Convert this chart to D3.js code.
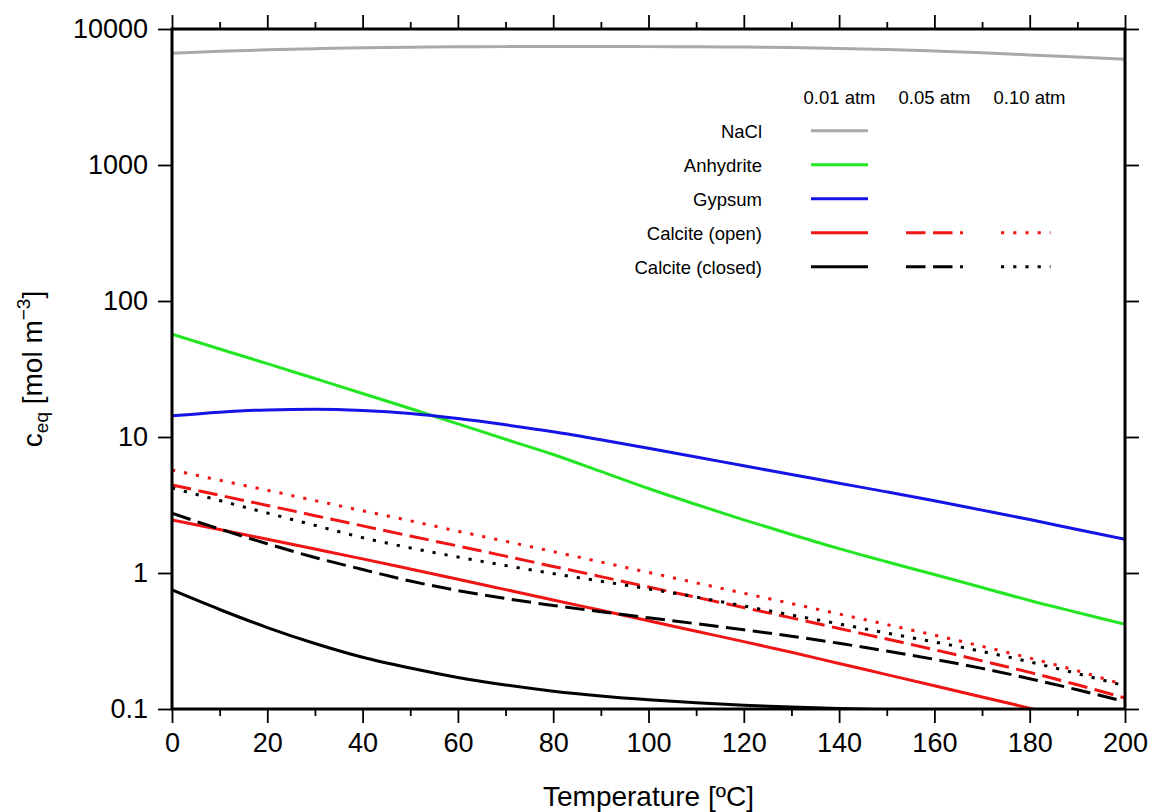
<!DOCTYPE html>
<html>
<head>
<meta charset="utf-8">
<script src="https://cdn.jsdelivr.net/npm/d3@7"></script>
<style>
  html, body { margin: 0; padding: 0; background: #fff; }
  svg { display: block; font-family: "Liberation Sans", Arial, Helvetica, sans-serif; }
</style>
</head>
<body>
<svg id="chart" width="1151" height="812"></svg>
<script>
// ---------------- DATA ----------------
const temperatures = [0, 10, 20, 30, 40, 50, 60, 70, 80, 90, 100, 110, 120, 130, 140, 150, 160, 170, 180, 190, 200];

const naclValues      = [6620, 6850, 7030, 7170, 7280, 7350, 7400, 7420, 7430, 7430, 7420, 7400, 7360, 7300, 7200, 7060, 6880, 6680, 6450, 6220, 5980];
const anhydriteValues = [56.9, 44.4, 34.6, 26.9, 20.9, 16.2, 12.5, 9.62, 7.43, 5.58, 4.18, 3.19, 2.46, 1.92, 1.51, 1.209, 0.975, 0.782, 0.628, 0.513, 0.42];
const gypsumValues    = [14.3, 15.22, 15.82, 15.98, 15.64, 14.86, 13.66, 12.29, 10.92, 9.54, 8.26, 7.13, 6.14, 5.30, 4.57, 3.95, 3.40, 2.90, 2.47, 2.09, 1.77];
const calciteOpen001  = [2.45, 2.09, 1.77, 1.50, 1.27, 1.07, 0.900, 0.755, 0.633, 0.532, 0.446, 0.373, 0.313, 0.261, 0.216, 0.179, 0.1483, 0.1227, 0.1014, 0.0836, 0.0689];
const calciteOpen005  = [4.44, 3.73, 3.14, 2.64, 2.22, 1.87, 1.58, 1.33, 1.118, 0.941, 0.789, 0.663, 0.557, 0.468, 0.391, 0.327, 0.273, 0.226, 0.186, 0.1506, 0.1205];
const calciteOpen010  = [5.72, 4.81, 4.06, 3.41, 2.87, 2.42, 2.03, 1.711, 1.437, 1.205, 1.010, 0.847, 0.710, 0.596, 0.4995, 0.418, 0.349, 0.289, 0.237, 0.191, 0.150];
const calciteClosed001 = [0.750, 0.539, 0.397, 0.303, 0.240, 0.200, 0.1704, 0.1502, 0.1352, 0.1246, 0.1168, 0.1110, 0.1066, 0.1034, 0.1008, 0.0987, 0.0967, 0.095, 0.0935, 0.092, 0.0905];
const calciteClosed005 = [2.75, 2.106, 1.640, 1.300, 1.061, 0.873, 0.743, 0.649, 0.577, 0.519, 0.468, 0.424, 0.382, 0.343, 0.304, 0.267, 0.232, 0.199, 0.167, 0.1384, 0.1135];
const calciteClosed010 = [4.22, 3.41, 2.76, 2.24, 1.82, 1.53, 1.31, 1.135, 0.991, 0.870, 0.765, 0.666, 0.572, 0.491, 0.422, 0.362, 0.311, 0.265, 0.222, 0.182, 0.148];

const xTickValues = [0, 10, 20, 30, 40, 50, 60, 70, 80, 90, 100, 110, 120, 130, 140, 150, 160, 170, 180, 190, 200];
const xTickLabels = [0, 20, 40, 60, 80, 100, 120, 140, 160, 180, 200];
const yTickValues = [0.1, 1, 10, 100, 1000, 10000];
const yTickLabels = ["0.1", "1", "10", "100", "1000", "10000"];

const legendRowLabels = ["NaCl", "Anhydrite", "Gypsum", "Calcite (open)", "Calcite (closed)"];
const pressureLabels = ["0.01 atm", "0.05 atm", "0.10 atm"];

const xTitle = "Temperature [ºC]";

// series: row in legend, pressure column, style
const series = [
  { values: naclValues,        row: 0, col: 0, color: "#a9a9a9", dash: null },
  { values: anhydriteValues,   row: 1, col: 0, color: "#22e622", dash: null },
  { values: gypsumValues,      row: 2, col: 0, color: "#1414e6", dash: null },
  { values: calciteOpen001,    row: 3, col: 0, color: "#f01414", dash: null },
  { values: calciteOpen005,    row: 3, col: 1, color: "#f01414", dash: "19.5,7.5" },
  { values: calciteOpen010,    row: 3, col: 2, color: "#f01414", dash: "3.2,9" },
  { values: calciteClosed001,  row: 4, col: 0, color: "#000000", dash: null },
  { values: calciteClosed005,  row: 4, col: 1, color: "#000000", dash: "19.5,7.5" },
  { values: calciteClosed010,  row: 4, col: 2, color: "#000000", dash: "3.2,9" }
];

(function () {
// ---------------- LAYOUT ----------------
const svg = d3.select("#chart");
const W = 1151, H = 812;
const pL = 172, pR = 1125, pT = 29, pB = 709;
const FONT = '"Liberation Sans", Arial, Helvetica, sans-serif';

svg.append("rect").attr("width", W).attr("height", H).attr("fill", "#fff");

const x = d3.scaleLinear().domain([0, 200]).range([pL, pR]);
const y = d3.scaleLog().domain([0.1, 10000]).range([pB, pT]);

svg.append("defs").append("clipPath").attr("id", "plotclip")
  .append("rect").attr("x", pL).attr("y", pT).attr("width", pR - pL).attr("height", pB - pT);

const line = d3.line()
  .x((d, i) => x(temperatures[i]))
  .y(d => y(d))
  .curve(d3.curveMonotoneX);

const plot = svg.append("g").attr("clip-path", "url(#plotclip)");
series.forEach(s => {
  plot.append("path")
    .attr("d", line(s.values))
    .attr("fill", "none")
    .attr("stroke", s.color)
    .attr("stroke-width", 3)
    .attr("stroke-dasharray", s.dash)
    .attr("stroke-linecap", "butt")
    .attr("stroke-linejoin", "round");
});

// ---------------- AXES ----------------
const MAJOR = 14, MINOR = 7;
const isMajor = v => xTickLabels.includes(v);

function styleAxis(g) {
  g.select(".domain").remove();
  g.selectAll(".tick line").attr("stroke", "#000").attr("stroke-width", 1.8);
  g.selectAll(".tick text").attr("font-family", FONT).attr("font-size", 27).attr("fill", "#000");
}

const xBottom = svg.append("g").attr("transform", `translate(0,${pB})`)
  .call(d3.axisBottom(x).tickValues(xTickValues).tickSize(MAJOR).tickPadding(10)
    .tickFormat(v => isMajor(v) ? String(v) : ""));
styleAxis(xBottom);
xBottom.selectAll(".tick line").attr("y2", d => isMajor(d) ? MAJOR : MINOR);

const xTop = svg.append("g").attr("transform", `translate(0,${pT})`)
  .call(d3.axisTop(x).tickValues(xTickValues).tickSize(MAJOR).tickFormat(""));
styleAxis(xTop);
xTop.selectAll(".tick line").attr("y2", d => isMajor(d) ? -MAJOR : -MINOR);

const yLeft = svg.append("g").attr("transform", `translate(${pL},0)`)
  .call(d3.axisLeft(y).tickValues(yTickValues).tickSize(MAJOR).tickPadding(10)
    .tickFormat((d, i) => yTickLabels[i]));
styleAxis(yLeft);

const yRight = svg.append("g").attr("transform", `translate(${pR},0)`)
  .call(d3.axisRight(y).tickValues(yTickValues).tickSize(MAJOR).tickFormat(""));
styleAxis(yRight);

svg.append("rect")
  .attr("x", pL).attr("y", pT).attr("width", pR - pL).attr("height", pB - pT)
  .attr("fill", "none").attr("stroke", "#000").attr("stroke-width", 3);

svg.append("text")
  .attr("x", (pL + pR) / 2).attr("y", 806)
  .attr("text-anchor", "middle")
  .attr("font-family", FONT).attr("font-size", 28).attr("fill", "#000")
  .text(xTitle);

const yt = svg.append("text")
  .attr("transform", `translate(42,${(pT + pB) / 2}) rotate(-90)`)
  .attr("text-anchor", "middle")
  .attr("font-family", FONT).attr("font-size", 28).attr("fill", "#000");
yt.append("tspan").text("c");
yt.append("tspan").attr("font-size", 19).attr("dy", 6).text("eq");
yt.append("tspan").attr("dy", -6).text(" [mol m");
yt.append("tspan").attr("font-size", 19).attr("dy", -12).text("\u22123");
yt.append("tspan").attr("dy", 12).text("]");

// ---------------- LEGEND ----------------
const legRowY0 = 130.7, legRowDY = 34;
const legLabelRight = 762;
const colCenters = [839.5, 934.5, 1029.5];
const colLineW = 57;
const legend = svg.append("g");

pressureLabels.forEach((p, i) => {
  legend.append("text")
    .attr("x", colCenters[i]).attr("y", 104)
    .attr("text-anchor", "middle")
    .attr("font-family", FONT).attr("font-size", 18.5).attr("fill", "#000")
    .text(p);
});
legendRowLabels.forEach((lab, r) => {
  legend.append("text")
    .attr("x", legLabelRight).attr("y", legRowY0 + r * legRowDY + 7)
    .attr("text-anchor", "end")
    .attr("font-family", FONT).attr("font-size", 18.5).attr("fill", "#000")
    .text(lab);
});
series.forEach(s => {
  const cy = legRowY0 + s.row * legRowDY;
  const cx = colCenters[s.col];
  const x0 = cx - colLineW / 2, x1 = s.col === 2 ? cx + 21 : cx + colLineW / 2;
  legend.append("line")
    .attr("x1", x0).attr("x2", x1).attr("y1", cy).attr("y2", cy)
    .attr("stroke", s.color).attr("stroke-width", 3)
    .attr("stroke-dasharray", s.dash);
});
})();
</script>
</body>
</html>
